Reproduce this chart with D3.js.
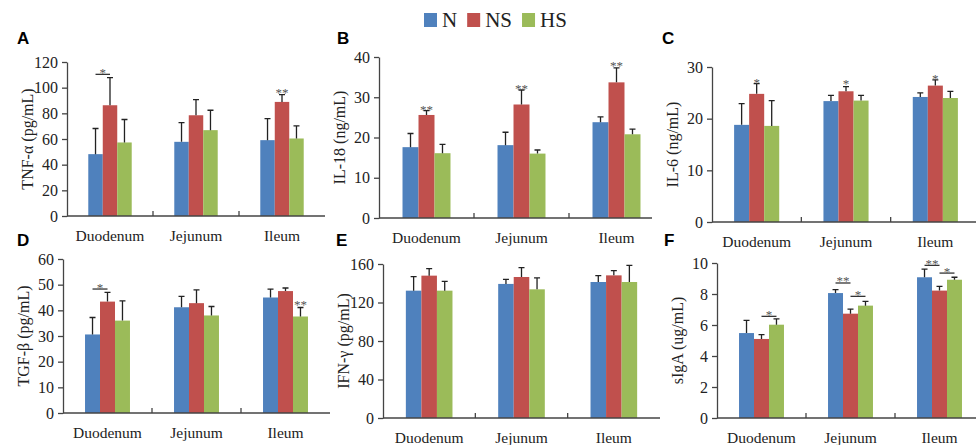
<!DOCTYPE html>
<html lang="en">
<head>
<meta charset="utf-8">
<title>intestinal cytokines</title>
<script src="https://cdn.jsdelivr.net/npm/d3@7/dist/d3.min.js"></script>
<style>
body { margin: 0; background: #fff; }
svg text { font-family: "Liberation Serif", "Times New Roman", serif; fill: #222; }
</style>
</head>
<body>
<script>

var categories = ["Duodenum", "Jejunum", "Ileum"];
var groups = ["N", "NS", "HS"];

// values per category, in the order N, NS, HS
var tnfMean = [[48.2, 86.3, 57.3], [57.8, 78.5, 66.9], [59.1, 88.9, 60.4]];
var tnfErr  = [[20.0, 21.5, 17.9], [15.0, 12.2, 15.5], [16.8, 5.7, 9.8]];
var tnfTicks = [0, 20, 40, 60, 80, 100, 120];

var il18Mean = [[17.6, 25.6, 16.1], [18.1, 28.2, 16.0], [23.8, 33.7, 20.8]];
var il18Err  = [[3.4, 1.1, 2.2], [3.2, 3.6, 0.9], [1.3, 3.6, 1.3]];
var il18Ticks = [0, 10, 20, 30, 40];

var il6Mean = [[18.8, 24.8, 18.6], [23.4, 25.3, 23.5], [24.2, 26.4, 24.0]];
var il6Err  = [[4.1, 2.0, 4.9], [1.1, 0.9, 1.0], [0.8, 1.1, 1.3]];
var il6Ticks = [0, 10, 20, 30];

var tgfMean = [[30.6, 43.4, 36.0], [41.2, 42.8, 38.0], [45.0, 47.5, 37.6]];
var tgfErr  = [[6.6, 3.6, 7.7], [4.2, 5.2, 3.5], [3.3, 1.2, 3.5]];
var tgfTicks = [0, 10, 20, 30, 40, 50, 60];

var ifnMean = [[132.3, 147.9, 132.3], [139.3, 146.5, 133.7], [141.3, 148.2, 141.3]];
var ifnErr  = [[14.6, 7.3, 9.7], [4.8, 9.7, 11.8], [6.6, 4.9, 17.3]];
var ifnTicks = [0, 40, 80, 120, 160];

var igaMean = [[5.48, 5.10, 6.02], [8.06, 6.73, 7.25], [9.08, 8.22, 8.92]];
var igaErr  = [[0.82, 0.28, 0.37], [0.22, 0.30, 0.28], [0.53, 0.27, 0.16]];
var igaTicks = [0, 2, 4, 6, 8, 10];

// significance marks: [category, from group, to group, label, value]
// from == to -> star alone centred at value, otherwise a bar at value with the star above it
var tnfSig  = [[0, 0, 1, "*", 110.4], [2, 1, 1, "**", 98.5]];
var il18Sig = [[0, 1, 1, "**", 27.6], [1, 1, 1, "**", 32.8], [2, 1, 1, "**", 38.5]];
var il6Sig  = [[0, 1, 1, "*", 27.5], [1, 1, 1, "*", 27.2], [2, 1, 1, "*", 28.3]];
var tgfSig  = [[0, 0, 1, "*", 48.3], [2, 2, 2, "**", 43.4]];
var ifnSig  = [];
var igaSig  = [[0, 1, 2, "*", 6.56], [1, 0, 1, "**", 8.71], [1, 1, 2, "*", 7.85],
               [2, 0, 1, "**", 9.85], [2, 1, 2, "*", 9.35]];

var colors = ["#4F81BD", "#C0504D", "#9BBB59"];

var W = 976, H = 445;
var svg = d3.select("body").append("svg")
	.attr("width", W)
	.attr("height", H);

var panels = [
	{letter: "A", title: "TNF-α (pg/mL)", mean: tnfMean, err: tnfErr, ticks: tnfTicks, sig: tnfSig,
	 left: 67, end: 325, line: 325, top: 62, bottom: 216, lx: 17, ly: 44},
	{letter: "B", title: "IL-18 (ng/mL)", mean: il18Mean, err: il18Err, ticks: il18Ticks, sig: il18Sig,
	 left: 379, end: 664, line: 652, top: 57, bottom: 218, lx: 337, ly: 44},
	{letter: "C", title: "IL-6 (ng/mL)", mean: il6Mean, err: il6Err, ticks: il6Ticks, sig: il6Sig,
	 left: 712, end: 980, line: 976, top: 67, bottom: 222, lx: 662, ly: 44},
	{letter: "D", title: "TGF-β (pg/mL)", mean: tgfMean, err: tgfErr, ticks: tgfTicks, sig: tgfSig,
	 left: 63, end: 330, line: 330, top: 259, bottom: 413, lx: 17, ly: 246},
	{letter: "E", title: "IFN-γ (pg/mL)", mean: ifnMean, err: ifnErr, ticks: ifnTicks, sig: ifnSig,
	 left: 383, end: 660, line: 660, top: 264, bottom: 418, lx: 336, ly: 246},
	{letter: "F", title: "sIgA (ug/mL)", mean: igaMean, err: igaErr, ticks: igaTicks, sig: igaSig,
	 left: 717, end: 984, line: 976, top: 263, bottom: 418, lx: 664, ly: 246}
];

panels.forEach(panel);
legend();

function panel(p) {
	var g = svg.append("g");

	var y = d3.scaleLinear()
		.domain([0, d3.max(p.ticks)])
		.range([p.bottom, p.top]);

	var x = d3.scaleBand()
		.domain(categories)
		.range([p.left, p.end])
		.padding(0);

	var grp = x.bandwidth() * 0.505;
	var off = (x.bandwidth() - grp) / 2;
	var xi = d3.scaleBand()
		.domain(groups)
		.range([0, grp])
		.padding(0);

	// y axis
	var yAxis = d3.axisLeft(y)
		.tickValues(p.ticks)
		.tickSize(5)
		.tickSizeOuter(0)
		.tickPadding(4);
	var ya = g.append("g")
		.attr("transform", "translate(" + p.left + ",0)")
		.call(yAxis);
	ya.select(".domain").attr("stroke", "#444").attr("stroke-width", 1.3);
	ya.selectAll(".tick line").attr("stroke", "#444").attr("stroke-width", 1.3);
	ya.selectAll(".tick text")
		.attr("font-size", "16px")
		.attr("font-family", "Liberation Serif, serif")
		.attr("fill", "#222");

	// bars
	var cells = [];
	p.mean.forEach(function(row, ci) {
		row.forEach(function(v, gi) {
			cells.push({c: categories[ci], g: groups[gi], gi: gi, v: v, e: p.err[ci][gi]});
		});
	});

	g.selectAll(".bar")
		.data(cells)
		.enter()
		.append("rect")
		.attr("class", "bar")
		.attr("x", function(d) { return x(d.c) + off + xi(d.g); })
		.attr("y", function(d) { return y(d.v); })
		.attr("width", xi.bandwidth())
		.attr("height", function(d) { return y(0) - y(d.v); })
		.attr("fill", function(d) { return colors[d.gi]; });

	// error bars (upper only)
	var cx = function(d) { return x(d.c) + off + xi(d.g) + xi.bandwidth() / 2; };
	g.selectAll(".eb")
		.data(cells)
		.enter()
		.append("path")
		.attr("class", "eb")
		.attr("d", function(d) {
			var c = cx(d), t = y(d.v + d.e);
			return "M" + c + "," + y(d.v) + "V" + t + "M" + (c - 3) + "," + t + "H" + (c + 3);
		})
		.attr("fill", "none")
		.attr("stroke", "#222")
		.attr("stroke-width", 1.3);

	// x axis line with separators
	g.append("line")
		.attr("x1", p.left).attr("x2", p.line)
		.attr("y1", p.bottom).attr("y2", p.bottom)
		.attr("stroke", "#444").attr("stroke-width", 1.3);
	g.selectAll(".sep")
		.data(categories.slice(1))
		.enter()
		.append("line")
		.attr("x1", function(d) { return x(d); })
		.attr("x2", function(d) { return x(d); })
		.attr("y1", p.bottom).attr("y2", p.bottom - 5)
		.attr("stroke", "#444").attr("stroke-width", 1.3);

	g.selectAll(".cat")
		.data(categories)
		.enter()
		.append("text")
		.attr("x", function(d) { return x(d) + x.bandwidth() / 2; })
		.attr("y", p.bottom + 25)
		.attr("text-anchor", "middle")
		.attr("font-size", "15.5px")
		.text(function(d) { return d; });

	// axis title
	g.append("text")
		.attr("transform", "translate(" + (p.left - 40) + "," + ((p.top + p.bottom) / 2) + ") rotate(-90)")
		.attr("text-anchor", "middle")
		.attr("dominant-baseline", "central")
		.attr("font-size", "16px")
		.text(p.title);

	// panel letter
	g.append("text")
		.attr("x", p.lx).attr("y", p.ly)
		.attr("font-size", "17px")
		.attr("font-weight", "bold")
		.style("font-family", "'Liberation Sans', Arial, sans-serif")
		.style("fill", "#000")
		.text(p.letter);

	// significance
	p.sig.forEach(function(s) {
		var c = categories[s[0]];
		var x1 = x(c) + off + xi(groups[s[1]]) + xi.bandwidth() / 2;
		var x2 = x(c) + off + xi(groups[s[2]]) + xi.bandwidth() / 2;
		var yy = y(s[4]);
		var sc = yy;
		if (s[1] != s[2]) {
			g.append("line")
				.attr("x1", x1).attr("x2", x2)
				.attr("y1", yy).attr("y2", yy)
				.attr("stroke", "#222").attr("stroke-width", 1.2);
			sc = yy - 4.5;
		}
		g.append("text")
			.attr("x", (x1 + x2) / 2)
			.attr("y", sc + 7)
			.attr("text-anchor", "middle")
			.attr("font-size", "13px")
			.style("fill", "#555")
			.text(s[3]);
	});
}

function legend() {
	var lg = svg.append("g").attr("transform", "translate(424,13)");
	var xpos = 0;
	groups.forEach(function(name, i) {
		lg.append("rect")
			.attr("x", xpos).attr("y", 0)
			.attr("width", 13).attr("height", 14)
			.attr("fill", colors[i]);
		var t = lg.append("text")
			.attr("x", xpos + 18).attr("y", 14)
			.attr("font-size", "21px")
			.text(name);
		xpos += 18 + t.node().getComputedTextLength() + 10;
	});
}

</script>
</body>
</html>
